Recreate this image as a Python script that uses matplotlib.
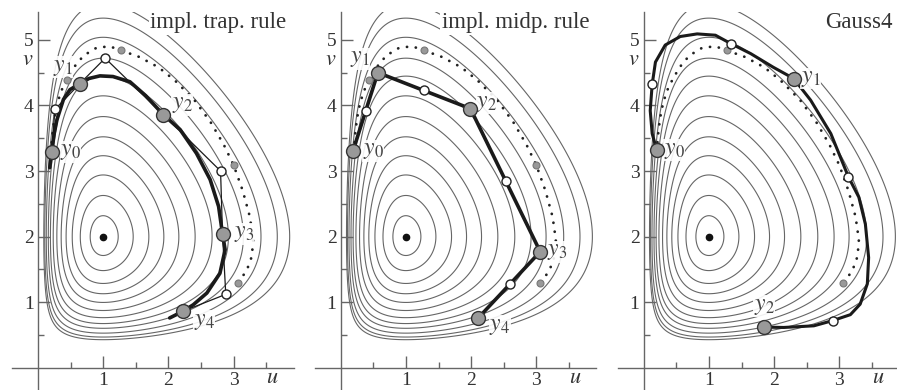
import numpy as np
import matplotlib
matplotlib.use("Agg")
import matplotlib.pyplot as plt

plt.rcParams['font.family'] = ['Liberation Serif', 'DejaVu Serif']
plt.rcParams['mathtext.fontset'] = 'stix'

# Level curves of the Lotka-Volterra invariant, given by where they cross v = 2
level_u_at_v2 = [1.23, 1.46, 1.70, 1.93, 2.16, 2.41, 2.67, 2.92, 3.15, 3.42, 3.67, 3.86]

# exact solution (dotted) and exact values at t = h, 2h, 3h, 4h
exact_u = [0.20, 0.22, 0.25, 0.30, 0.37, 0.44, 0.55, 0.70, 0.90, 1.10, 1.27, 1.55, 1.85,
           2.10, 2.40, 2.65, 2.85, 3.00, 3.14, 3.25, 3.30, 3.28, 3.20, 3.06]
exact_v = [3.30, 3.55, 3.80, 4.05, 4.25, 4.39, 4.58, 4.76, 4.88, 4.90, 4.84, 4.74, 4.58,
           4.38, 4.08, 3.74, 3.40, 3.09, 2.70, 2.30, 1.95, 1.70, 1.48, 1.29]
exact_dot_u = [0.44, 1.27, 3.00, 3.06]
exact_dot_v = [4.39, 4.84, 3.09, 1.29]

# implicit trapezoidal rule
trap_y_u = [0.21, 0.64, 1.92, 2.83, 2.22]
trap_y_v = [3.29, 4.33, 3.86, 2.04, 0.86]
trap_w_u = [0.26, 1.03, 2.80, 2.88]
trap_w_v = [3.94, 4.72, 3.00, 1.12]
trap_curve_u = [0.18, 0.21, 0.25, 0.29, 0.39, 0.49, 0.64, 0.78, 0.95, 1.15, 1.41, 1.65, 1.92,
                2.18, 2.43, 2.64, 2.77, 2.83, 2.87, 2.79, 2.59, 2.38, 2.22, 2.02]
trap_curve_v = [3.05, 3.29, 3.58, 3.78, 4.09, 4.24, 4.33, 4.41, 4.45, 4.44, 4.36, 4.15, 3.86,
                3.63, 3.27, 2.87, 2.46, 2.04, 1.80, 1.44, 1.14, 0.96, 0.86, 0.76]

# implicit midpoint rule
mid_y_u = [0.19, 0.57, 1.99, 3.06, 2.11]
mid_y_v = [3.31, 4.50, 3.95, 1.77, 0.76]
mid_w_u = [0.39, 1.28, 2.53, 2.59]
mid_w_v = [3.91, 4.23, 2.85, 1.27]

# Gauss4
gau_y_u = [0.20, 2.30, 1.85]
gau_y_v = [3.32, 4.41, 0.62]
gau_w_u = [0.12, 1.34, 3.14, 2.90]
gau_w_v = [4.32, 4.94, 2.91, 0.72]
gau_curve_u = [0.20, 0.13, 0.10, 0.13, 0.18, 0.33, 0.56, 0.82, 1.10, 1.34, 1.64, 1.99, 2.30,
               2.56, 2.87, 3.14, 3.30, 3.40, 3.45, 3.43, 3.32, 3.17, 2.90, 2.61, 2.15, 1.85]
gau_curve_v = [3.32, 3.57, 3.92, 4.32, 4.66, 4.92, 5.05, 5.09, 5.07, 4.94, 4.79, 4.58, 4.41,
               4.08, 3.57, 2.91, 2.60, 2.19, 1.68, 1.28, 0.97, 0.81, 0.72, 0.64, 0.615, 0.62]

titles = ["impl. trap. rule", "impl. midp. rule", "Gauss4"]

LINE = '#1a1a1a'
GREY = '#666666'


def invariant(u, v):
    return np.log(u) - u + 2 * np.log(v) - v


fig = plt.figure(figsize=(8.97, 3.9), dpi=100)
W, H = 897.0, 390.0
sx, sy = 65.2, 65.6
xlo, xhi, ylo, yhi = -0.40, 3.92, -0.34, 5.43
origins = [38.0, 340.7, 643.7]
v0_px = 367.8

uu = np.linspace(0.01, 3.92, 900)
vv = np.linspace(0.02, 5.43, 900)
U, V = np.meshgrid(uu, vv)
Hf = invariant(U, V)
base = invariant(1.0, 2.0)
levels = sorted(base + np.log(c) - c + 1 for c in level_u_at_v2)

axes = []
for i, x0 in enumerate(origins):
    ax = fig.add_axes([(x0 + xlo * sx) / W, 1 - (v0_px - ylo * sy) / H,
                       (xhi - xlo) * sx / W, (yhi - ylo) * sy / H])
    ax.set_xlim(xlo, xhi)
    ax.set_ylim(ylo, yhi)
    ax.patch.set_alpha(0)
    for s in ['top', 'right']:
        ax.spines[s].set_visible(False)
    for s in ['left', 'bottom']:
        ax.spines[s].set_position(('data', 0))
        ax.spines[s].set_color('#666666')
        ax.spines[s].set_linewidth(1.0)
    ax.set_xticks([1, 2, 3])
    ax.set_xticks([0.5, 1.5, 2.5, 3.5], minor=True)
    ax.set_yticks([1, 2, 3, 4, 5])
    ax.set_yticks([0.5, 1.5, 2.5, 3.5, 4.5], minor=True)
    ax.tick_params(which='major', direction='in', length=8.5, width=1.0, color='#666666',
                   labelsize=14, labelcolor='#333333', pad=3)
    ax.tick_params(which='minor', direction='in', length=4.5, width=1.0, color='#666666')
    ax.text(3.6, -0.235, '$u$', ha='center', va='baseline', fontsize=16, color='#333333')
    ax.text(-0.16, 4.62, '$v$', ha='center', va='baseline', fontsize=16, color='#333333')

    ax.contour(U, V, Hf, levels=levels, colors=GREY, linewidths=0.8, linestyles='solid')
    ax.plot([1], [2], 'o', ms=4.5, color='#111111', zorder=5)
    ax.plot(exact_u, exact_v, color='#222222', lw=2.0, ls=(0, (0.05, 3.2)),
            dash_capstyle='round', zorder=3)
    ax.text(0.975, 0.956, titles[i], transform=ax.transAxes, ha='right', va='baseline',
            fontsize=16.5, color='#333333', zorder=6,
            bbox=dict(facecolor='white', edgecolor='none', pad=1.0))
    axes.append(ax)


def label(ax, text, xy, dx, dy, ha='left'):
    ax.annotate(text, xy, xytext=(dx, dy), textcoords='offset points', ha=ha, va='center',
                fontsize=17, color='#444444', zorder=7,
                bbox=dict(facecolor='white', edgecolor='none', pad=0.3, alpha=0.9))


def big_dots(ax, u, v):
    ax.plot(u, v, 'o', ms=10, mfc='#999999', mec='#333333', mew=1.0, ls='none', zorder=9)


def white_dots(ax, u, v):
    ax.plot(u, v, 'o', ms=6.5, mfc='white', mec='#222222', mew=1.0, ls='none', zorder=8)


def small_dots(ax, u, v):
    ax.plot(u, v, 'o', ms=5, mfc='#999999', mec='#777777', mew=0.8, ls='none', zorder=8)


# panel 1: trapezoidal rule
ax = axes[0]
poly_u = [p for pair in zip(trap_y_u[:-1], trap_w_u) for p in pair] + [trap_y_u[-1]]
poly_v = [p for pair in zip(trap_y_v[:-1], trap_w_v) for p in pair] + [trap_y_v[-1]]
ax.plot(poly_u, poly_v, color=LINE, lw=0.9, zorder=6)
ax.plot(trap_curve_u, trap_curve_v, color=LINE, lw=2.6, solid_capstyle='round', zorder=6)
small_dots(ax, exact_dot_u, exact_dot_v)
white_dots(ax, trap_w_u, trap_w_v)
big_dots(ax, trap_y_u, trap_y_v)
for k, (dx, dy, ha) in enumerate([(6, 0, 'left'), (-12, 12, 'center'), (6, 7, 'left'),
                                  (8, 0, 'left'), (8, -7, 'left')]):
    label(ax, '$y_%d$' % k, (trap_y_u[k], trap_y_v[k]), dx, dy, ha)

# panel 2: midpoint rule
ax = axes[1]
ax.plot(mid_y_u, mid_y_v, color=LINE, lw=2.6, solid_capstyle='round', zorder=6)
small_dots(ax, exact_dot_u, exact_dot_v)
white_dots(ax, mid_w_u, mid_w_v)
big_dots(ax, mid_y_u, mid_y_v)
for k, (dx, dy, ha) in enumerate([(7, 0, 'left'), (-13, 10, 'center'), (4, 4, 'left'),
                                  (5, 0, 'left'), (8, -6, 'left')]):
    label(ax, '$y_%d$' % k, (mid_y_u[k], mid_y_v[k]), dx, dy, ha)

# panel 3: Gauss4
ax = axes[2]
ax.plot(gau_curve_u, gau_curve_v, color=LINE, lw=2.2, solid_capstyle='round', zorder=6)
small_dots(ax, exact_dot_u[1::2], exact_dot_v[1::2])
white_dots(ax, gau_w_u, gau_w_v)
big_dots(ax, gau_y_u, gau_y_v)
for k, (dx, dy, ha) in enumerate([(5, 0, 'left'), (5, 0, 'left'), (0, 15, 'center')]):
    label(ax, '$y_%d$' % k, (gau_y_u[k], gau_y_v[k]), dx, dy, ha)

fig.savefig("out.png", dpi=100)
